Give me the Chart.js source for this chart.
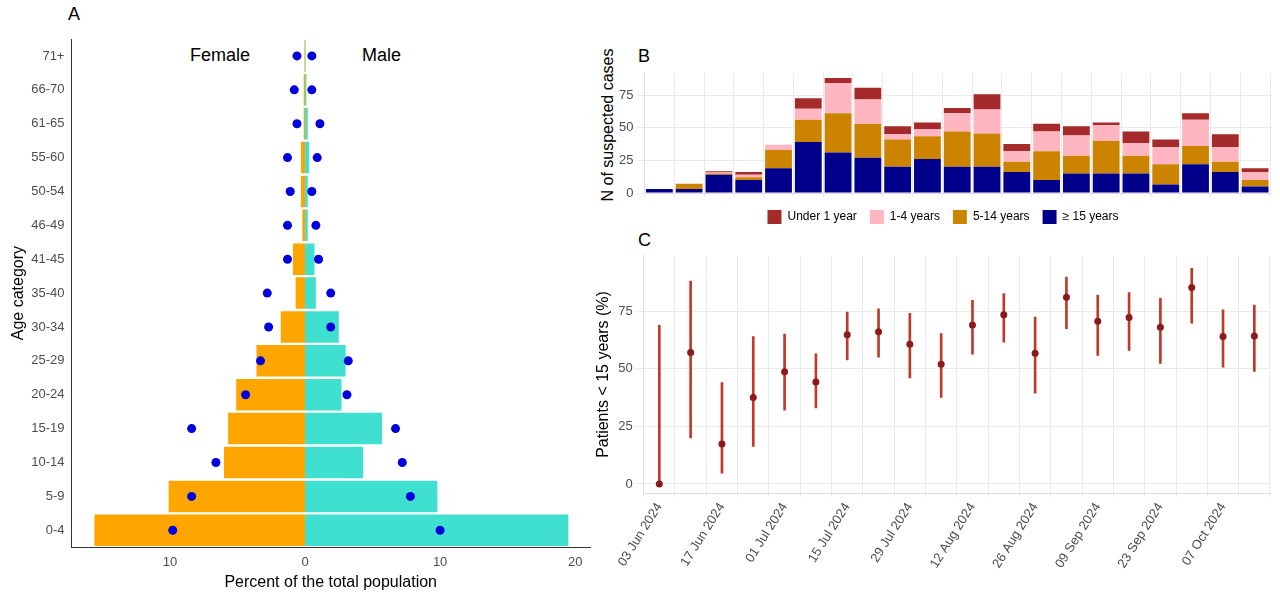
<!DOCTYPE html>
<html><head><meta charset="utf-8">
<script src="https://cdn.jsdelivr.net/npm/chart.js@4"></script>
<style>
body{margin:0;width:1280px;height:592px;background:#fff;font-family:"Liberation Sans",Arial,sans-serif;position:relative;overflow:hidden}
.p{position:absolute}
.lab{position:absolute;font-size:18px;color:#000}
.yt{position:absolute;font-size:16px;color:#000;transform:translate(-50%,-50%) rotate(-90deg);white-space:nowrap}
</style></head><body>
<div class="lab" style="left:68px;top:4px">A</div>
<div class="lab" style="left:638px;top:46px">B</div>
<div class="lab" style="left:638px;top:230px">C</div>
<div class="lab" style="left:190px;top:45px">Female</div>
<div class="lab" style="left:362px;top:45px">Male</div>
<div class="yt" style="left:608px;top:125px">N of suspected cases</div>
<div class="p" style="left:0;top:22px;width:600px;height:570px"><canvas id="a"></canvas></div>
<div class="p" style="left:592px;top:62px;width:688px;height:172px"><canvas id="b"></canvas></div>
<div class="p" style="left:592px;top:245px;width:688px;height:347px"><canvas id="c"></canvas></div>
<script>
const ageCats=["71+","66-70","61-65","55-60","50-54","46-49","41-45","35-40","30-34","25-29","20-24","15-19","10-14","5-9","0-4"];
const femaleBar=[-0.05,-0.1,-0.1,-0.3,-0.3,-0.2,-0.9,-0.7,-1.8,-3.6,-5.1,-5.7,-6.0,-10.1,-15.6];
const maleBar=[0.05,0.1,0.2,0.3,0.2,0.2,0.7,0.8,2.5,3.0,2.7,5.7,4.3,9.8,19.5];
const femaleDot=[-0.6,-0.8,-0.6,-1.3,-1.1,-1.3,-1.3,-2.8,-2.7,-3.3,-4.4,-8.4,-6.6,-8.4,-9.8];
const maleDot=[0.5,0.5,1.1,0.9,0.5,0.8,1.0,1.9,1.9,3.2,3.1,6.7,7.2,7.8,10.0];

const weeksB=["w1","w2","w3","w4","w5","w6","w7","w8","w9","w10","w11","w12","w13","w14","w15","w16","w17","w18","w19","w20","w21"];
const adult=[3,3,14,10,19,39,31,27,20,26,20,20,16,10,15,15,15,6.5,22,16,5];
const age5_14=[0,4,1,2,14,17,30,26,21,17.5,27,25.5,8,22,13.5,25,13.5,15.5,14,8,5];
const age1_4=[0,0,0.6,2,4,8.5,23,18.5,4,5.5,14,18.5,8,15,15.5,12,9.5,13,20,11,6];
const under1=[0,0,1,2,0,8,4,9,6,5,4,11.5,5.5,6,7,2,9,6,5,10,3];

const weeksC=["03 Jun 2024","10 Jun 2024","17 Jun 2024","24 Jun 2024","01 Jul 2024","08 Jul 2024","15 Jul 2024","22 Jul 2024","29 Jul 2024","05 Aug 2024","12 Aug 2024","19 Aug 2024","26 Aug 2024","02 Sep 2024","09 Sep 2024","16 Sep 2024","23 Sep 2024","30 Sep 2024","07 Oct 2024","14 Oct 2024"];
const pct=[0,57,17.4,37.5,48.7,44.2,64.7,66,60.6,52,69,73.4,56.7,81,70.6,72.2,68,85.3,64,64.2];
const lo=[0,20,4.7,16.3,32,33,53.8,55,46,37.6,56.3,61.5,39.4,67.4,55.8,58,52.3,69.8,50.7,48.8];
const hi=[68.8,88,44,64,65,56.5,74.6,76,74,65.3,79.7,82.6,72.4,89.8,82,83,80.5,93.6,75.6,77.6];

const F="'Liberation Sans', Arial, sans-serif";
Chart.defaults.font.family=F;
Chart.defaults.animation=false;
const tickFont={size:13};const tickColor="#4d4d4d";
const titleFont={size:16};

new Chart(document.getElementById('a'),{
 type:'bar',
 data:{labels:ageCats,datasets:[
  {data:femaleBar,backgroundColor:'#ffa500',grouped:false,categoryPercentage:1,barPercentage:0.93,order:2},
  {data:maleBar,backgroundColor:'#40e0d0',grouped:false,categoryPercentage:1,barPercentage:0.93,order:2},
  {type:'line',data:femaleDot.map((v,i)=>({x:v,y:ageCats[i]})),showLine:false,pointRadius:4.5,pointBackgroundColor:'#0000dd',pointBorderWidth:0,order:1},
  {type:'line',data:maleDot.map((v,i)=>({x:v,y:ageCats[i]})),showLine:false,pointRadius:4.5,pointBackgroundColor:'#0000dd',pointBorderWidth:0,order:1}
 ]},
 options:{indexAxis:'y',responsive:true,maintainAspectRatio:false,
  layout:{padding:{left:9,right:10,top:17,bottom:0}},
  plugins:{legend:{display:false},tooltip:{enabled:false}},
  scales:{
   x:{type:'linear',min:-17.3,max:21.1,afterBuildTicks:s=>{s.ticks=[-10,0,10,20].map(v=>({value:v}))},
      ticks:{callback:v=>Math.abs(v),font:tickFont,color:tickColor},
      grid:{display:false,drawTicks:true,tickLength:4,color:'#333'},border:{display:true,color:'#333'},
      title:{display:true,text:'Percent of the total population',font:titleFont,color:'#000',padding:0}},
   y:{ticks:{font:tickFont,color:tickColor},grid:{display:false,tickLength:4,color:'#333'},border:{display:true,color:'#333'},
      title:{display:true,text:'Age category',font:titleFont,color:'#000',padding:0}}
  }}
});

new Chart(document.getElementById('b'),{
 type:'bar',
 data:{labels:weeksB,datasets:[
  {label:'≥ 15 years',data:adult,backgroundColor:'#00008b'},
  {label:'5-14 years',data:age5_14,backgroundColor:'#cc8400'},
  {label:'1-4 years',data:age1_4,backgroundColor:'#ffb6c1'},
  {label:'Under 1 year',data:under1,backgroundColor:'#a52a2a'}
 ].map(d=>Object.assign(d,{categoryPercentage:1,barPercentage:0.9,borderWidth:0}))},
 options:{responsive:true,maintainAspectRatio:false,
  layout:{padding:{left:24,right:10}},
  plugins:{legend:{position:'bottom',reverse:true,labels:{boxWidth:14,boxHeight:14,font:{size:12},color:'#000',padding:13}},tooltip:{enabled:false}},
  scales:{
   x:{stacked:true,ticks:{display:false},grid:{color:'#ebebeb',tickLength:4},border:{color:'#ddd'}},
   y:{stacked:true,min:0,max:92,afterBuildTicks:s=>{s.ticks=[0,25,50,75].map(v=>({value:v}))},
      ticks:{font:tickFont,color:tickColor},grid:{color:'#ebebeb'},border:{color:'#ddd'}}
  }}
});

new Chart(document.getElementById('c'),{
 type:'bar',
 data:{labels:weeksC,datasets:[
  {type:'line',data:pct,showLine:false,pointRadius:3.5,pointBackgroundColor:'#8b1a1a',pointBorderWidth:0},
  {data:lo.map((v,i)=>[v,hi[i]]),backgroundColor:'#c0392b',barThickness:2}
 ]},
 options:{responsive:true,maintainAspectRatio:false,
  layout:{padding:{right:10,bottom:18}},
  plugins:{legend:{display:false},tooltip:{enabled:false}},
  scales:{
   x:{offset:true,ticks:{autoSkip:false,maxRotation:58,minRotation:58,font:{size:13},color:tickColor,callback:function(v,i){return i%2===0?this.getLabelForValue(v):''}},
      grid:{color:'#ebebeb',tickLength:4},border:{color:'#ddd'}},
   y:{min:-4,max:99,afterBuildTicks:s=>{s.ticks=[0,25,50,75].map(v=>({value:v}))},
      ticks:{font:tickFont,color:tickColor},grid:{color:'#ebebeb'},border:{color:'#ddd'},
      title:{display:true,text:'Patients < 15 years (%)',font:titleFont,color:'#000',padding:2}}
  }}
});
</script></body></html>
